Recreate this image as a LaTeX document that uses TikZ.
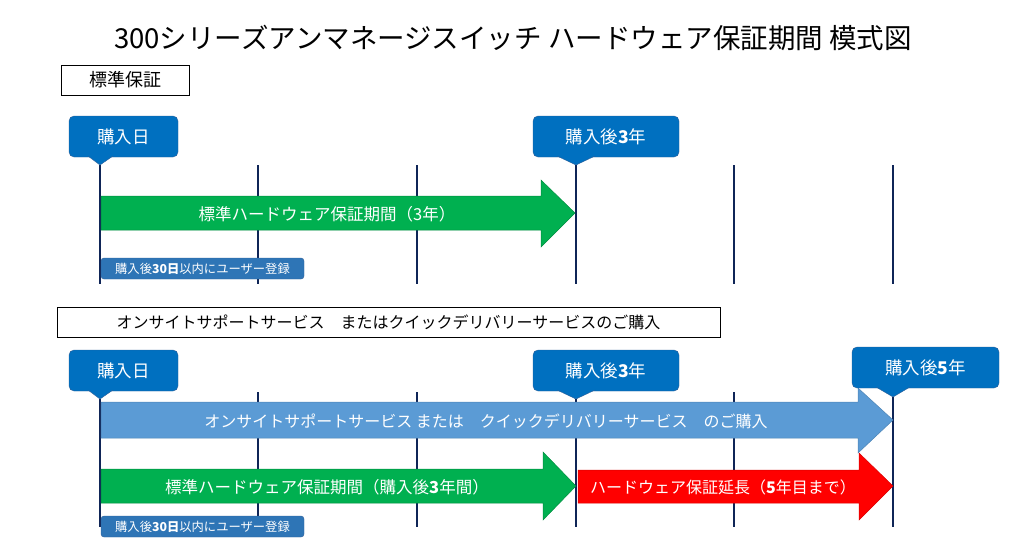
\documentclass[tikz,border=0pt]{standalone}
\usepackage{fontspec}
\setmainfont{Noto Sans CJK JP}
\definecolor{tagblue}{HTML}{0070C0}
\definecolor{tagedge}{HTML}{2F5F98}
\definecolor{navy}{HTML}{0F2557}
\definecolor{stdgreen}{HTML}{00B050}
\definecolor{optblue}{HTML}{5B9BD5}
\definecolor{regblue}{HTML}{2E75B6}
\begin{document}
\begin{tikzpicture}[x=1pt,y=-1pt,
    tick/.style={draw=navy,line width=2.3pt},
    tag/.style={fill=tagblue,draw=tagedge,rounded corners=5pt,text=white,inner sep=0pt,
      minimum height=41pt,font=\fontsize{17.5}{20}\selectfont},
    tip/.style={fill=tagblue,draw=tagedge},
    label/.style={draw=black,line width=0.8pt,inner sep=0pt,minimum height=30pt,
      font=\fontsize{16}{19}\selectfont},
    bar/.style={line width=0.5pt},
    bartext/.style={text=white,font=\fontsize{16.5}{19}\selectfont},
    reg/.style={fill=regblue,draw=tagedge,rounded corners=3pt,text=white,inner sep=0pt,
      minimum width=203pt,minimum height=21pt,font=\fontsize{12.3}{14}\selectfont}]
  \path[use as bounding box] (0,0) rectangle (1027,544);
  \node at (513,38) (title) {\fontsize{27.5}{32}\selectfont 300シリーズアンマネージスイッチ ハードウェア保証期間 模式図};

  % standard warranty
  \node[label,minimum width=128pt,font=\fontsize{18}{20}\selectfont] at (125,80) (std) {標準保証};
  \foreach \x in {258,417,734,893} \draw[tick] (\x,165) -- (\x,284);
  \coordinate (a0) at (100,165); \coordinate (a0e) at (100,284);
  \coordinate (a3) at (576,165); \coordinate (a3e) at (576,284);
  \draw[tick] (a0) -- (a0e);
  \draw[tick] (a3) -- (a3e);
  \node[tag,minimum width=109pt] at (123.5,136.5) (buy) {購入日};
  \path[tip] (88,156) -- (a0) -- (113,156);
  \node[tag,minimum width=146pt] at (606,136.5) (y3) {購入後\textbf{3}年};
  \path[tip] (557,156) -- (a3) -- (595,156);
  \path[bar,fill=stdgreen,draw=stdgreen!80!black]
    (101,196) -- (541,196) -- (541,180) -- (575,213) -- (541,247) -- (541,230) -- (101,230) -- cycle;
  \node[bartext] at (327,214) (stdbar) {標準ハードウェア保証期間（3年）};
  \node[reg] at (202.5,268.5) (regA) {購入後\textbf{30日}以内にユーザー登録};

  % extended service
  \node[label,minimum width=663pt] at (388.5,322.5) (ext) {オンサイトサポートサービス　またはクイックデリバリーサービスのご購入};
  \foreach \x in {258,417,734} \draw[tick] (\x,392) -- (\x,527);
  \coordinate (b0) at (100,399); \coordinate (b0e) at (100,527);
  \coordinate (b3) at (576,399); \coordinate (b3e) at (576,527);
  \coordinate (b5) at (893,397); \coordinate (b5e) at (893,527);
  \draw[tick] (b0) -- (b0e);
  \draw[tick] (b3) -- (b3e);
  \draw[tick] (b5) -- (b5e);
  \node[tag,minimum width=109pt] at (123.5,370.5) (buyB) {購入日};
  \path[tip] (88,390) -- (b0) -- (113,390);
  \node[tag,minimum width=146pt] at (606,370.5) (y3B) {購入後\textbf{3}年};
  \path[tip] (557,390) -- (b3) -- (595,390);
  \path[bar,fill=optblue,draw=optblue!85!black]
    (101,402) -- (858,402) -- (858,388) -- (893,420) -- (858,453) -- (858,438) -- (101,438) -- cycle;
  \node[bartext,font=\fontsize{16}{19}\selectfont] at (486,421) (optbar) {オンサイトサポートサービス または　クイックデリバリーサービス　のご購入};
  \node[tag,minimum width=147pt] at (925.5,367.5) (y5B) {購入後\textbf{5}年};
  \path[tip] (876,387) -- (b5) -- (910,387);
  \path[bar,fill=stdgreen,draw=stdgreen!80!black]
    (101,469) -- (543,469) -- (543,452) -- (576,486) -- (543,520) -- (543,503) -- (101,503) -- cycle;
  \node[bartext] at (327,487) (stdbarB) {標準ハードウェア保証期間（購入後\textbf{3}年間）};
  \path[bar,fill=red,draw=red!85!black]
    (578,470) -- (859,470) -- (859,453) -- (893,486) -- (859,520) -- (859,503) -- (578,503) -- cycle;
  \node[bartext,font=\fontsize{16}{19}\selectfont] at (723,487) (extbar) {ハードウェア保証延長（\textbf{5}年目まで）};
  \node[reg] at (202.5,526.5) (regB) {購入後\textbf{30日}以内にユーザー登録};
\end{tikzpicture}
\end{document}
